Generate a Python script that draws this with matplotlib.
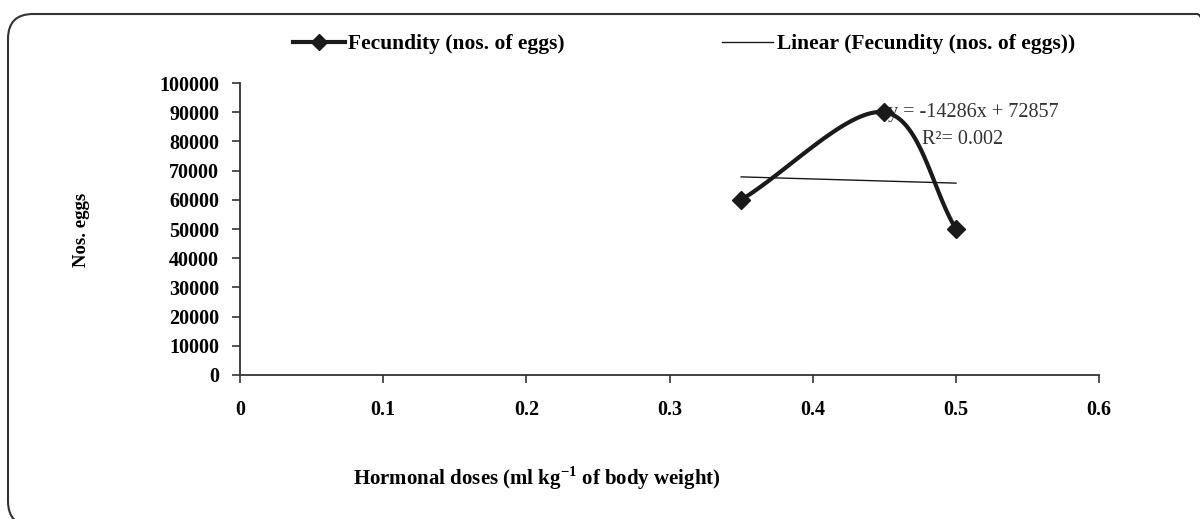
import numpy as np
import matplotlib.pyplot as plt
from matplotlib.patches import FancyBboxPatch

# data
dose = [0.35, 0.45, 0.5]
eggs = [60000, 90000, 50000]
xticks = [0, 0.1, 0.2, 0.3, 0.4, 0.5, 0.6]
yticks = list(range(0, 100001, 10000))

serif = "Liberation Serif"
ink = "#1a1a1a"
plt.rcParams["mathtext.fontset"] = "custom"
plt.rcParams["mathtext.rm"] = "Liberation Serif"
plt.rcParams["mathtext.bf"] = "Liberation Serif:bold"

fig = plt.figure(figsize=(12, 5.19), dpi=100)
ax = fig.add_axes([0.2, 0.2775, 0.716, 0.5625])

# rounded frame, cut off at the right and bottom edges of the picture
fig.patches.append(FancyBboxPatch((0.08, -0.07), 12.14, 5.12,
                                  boxstyle="round,pad=0,rounding_size=0.25",
                                  transform=fig.dpi_scale_trans, fill=False,
                                  ec="#333333", lw=1.5))

# smoothed line (Bezier through the points in screen space, like the spreadsheet)
sx = 0.716 * 12 / 0.6
sy = 0.5625 * 5.19 / 100000
pts = np.column_stack([np.array(dose) * sx, np.array(eggs) * sy])
ext = np.vstack([2 * pts[0] - pts[1], pts, 2 * pts[-1] - pts[-2]])
curve = []
for i in range(1, len(ext) - 2):
    p0, p1, p2, p3 = ext[i - 1], ext[i], ext[i + 1], ext[i + 2]
    c1 = p1 + (p2 - p0) / 6
    c2 = p2 - (p3 - p1) / 6
    t = np.linspace(0, 1, 60)[:, None]
    seg = (1 - t) ** 3 * p1 + 3 * (1 - t) ** 2 * t * c1 + 3 * (1 - t) * t ** 2 * c2 + t ** 3 * p2
    curve.append(seg)
curve = np.vstack(curve)

ax.plot(curve[:, 0] / sx, curve[:, 1] / sy, color=ink, lw=3)
ax.plot(dose, eggs, ls="none", marker="D", ms=9, color=ink)

# linear trendline
slope, icpt = np.polyfit(dose, eggs, 1)
tx = np.array([min(dose), max(dose)])
ax.plot(tx, slope * tx + icpt, color=ink, lw=1)

ax.text(0.4525, 90000, "y = %d" % round(slope) + "x + %d" % round(icpt), fontsize=14.5,
        family=serif, color="#333333", va="center", ha="left", zorder=0)
ax.text(0.5045, 80500, "R²= 0.002", fontsize=14.5, family=serif, color="#333333",
        va="center", ha="center", zorder=0)

ax.set_xlim(0, 0.6)
ax.set_ylim(0, 100000)
ax.set_xticks(xticks)
ax.set_yticks(yticks)
ax.set_xticklabels([str(v) for v in xticks], family=serif, fontweight="bold", fontsize=14.5)
ax.set_yticklabels([str(v) for v in yticks], family=serif, fontweight="bold", fontsize=14.5)
ax.tick_params(direction="out", length=6, width=1.2, color="#333333", pad=9)
ax.tick_params(axis="x", pad=12)
for s in ["top", "right"]:
    ax.spines[s].set_visible(False)
for s in ["left", "bottom"]:
    ax.spines[s].set_linewidth(1.3)
    ax.spines[s].set_color("#333333")

fig.text(0.068, 0.558, "Nos. eggs", rotation=90, family=serif, fontweight="bold",
         fontsize=13.5, ha="center", va="center")
fig.text(0.447, 0.078, "Hormonal doses (ml kg$^{\\mathbf{-1}}$ of body weight)", family=serif,
         fontweight="bold", fontsize=15, ha="center", va="center")

h1, = ax.plot([], [], color=ink, lw=3, marker="D", ms=8)
h2, = ax.plot([], [], color=ink, lw=1)
fig.legend([h1, h2], ["Fecundity (nos. of eggs)", "Linear (Fecundity (nos. of eggs))"],
           loc="center left", bbox_to_anchor=(0.228, 0.915), ncol=2, frameon=False,
           handlelength=2.4, handletextpad=0.15, columnspacing=7.3,
           prop={"family": serif, "weight": "bold", "size": 15.5})

plt.savefig("out.png")
